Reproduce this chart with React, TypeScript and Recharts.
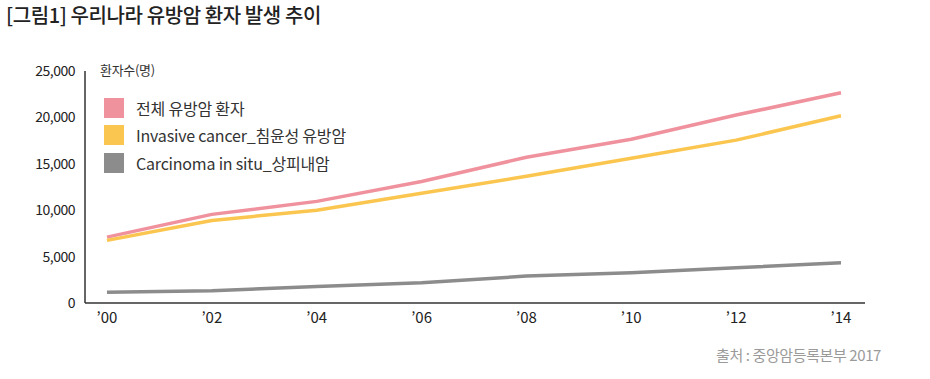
import { LineChart, Line, XAxis, YAxis } from 'recharts';

const years = ["'00", "'02", "'04", "'06", "'08", "'10", "'12", "'14"];
const totalPatients = [7100, 9550, 10950, 13100, 15700, 17650, 20250, 22650];
const invasive = [6750, 8900, 9990, 11830, 13650, 15600, 17550, 20170];
const inSitu = [1170, 1320, 1780, 2180, 2900, 3260, 3800, 4340];
const yTicks = [0, 5000, 10000, 15000, 20000, 25000];

const seriesNames = ['전체 유방암 환자', 'Invasive cancer_침윤성 유방암', 'Carcinoma in situ_상피내암'];
const seriesColors = ['#F0929D', '#FBC64F', '#8C8C8C'];

const data = years.map((y, i) => ({
  year: y.replace("'", '\u2019'),
  total: totalPatients[i],
  invasive: invasive[i],
  inSitu: inSitu[i],
}));

const FONT = '"Noto Sans CJK KR", "Noto Sans", sans-serif';

function LegendBox() {
  return (
    <div style={{ position: 'absolute', left: 104, top: 60, fontFamily: FONT, color: '#333' }}>
      <div style={{ fontSize: 13, height: 22, marginLeft: -4, letterSpacing: -0.3, lineHeight: '20px' }}>환자수(명)</div>
      <div style={{ height: 12 }} />
      {seriesNames.map((name, i) => (
        <div key={name} style={{ display: 'flex', alignItems: 'center', height: 27.5 }}>
          <span style={{ width: 20, height: 20, background: seriesColors[i], display: 'inline-block', marginRight: 12 }} />
          <span style={{ fontSize: 16, letterSpacing: -0.2 }}>{name}</span>
        </div>
      ))}
    </div>
  );
}

export default function App() {
  return (
    <div style={{ position: 'absolute', left: 0, top: 0, width: 930, height: 379, background: '#fff', fontFamily: FONT }}>
      <div style={{ position: 'absolute', left: 6, top: 0, fontSize: 20, fontWeight: 500, color: '#222', letterSpacing: -0.4 }}>
        [그림1] 우리나라 유방암 환자 발생 추이
      </div>
      <LineChart width={930} height={379} data={data} margin={{ top: 71, right: 65, bottom: 46, left: 0 }}>
        <XAxis
          dataKey="year"
          padding={{ left: 22, right: 24 }}
          tickLine={false}
          tickSize={0}
          tickMargin={9}
          axisLine={{ stroke: '#333', strokeWidth: 1.5 }}
          tick={{ fontSize: 15, fill: '#222', fontFamily: FONT }}
        />
        <YAxis
          domain={[0, 25000]}
          ticks={yTicks}
          width={85}
          tickLine={false}
          tickSize={0}
          tickMargin={10}
          axisLine={{ stroke: '#333', strokeWidth: 1.5 }}
          tickFormatter={(v: number) => v.toLocaleString('en-US')}
          tick={{ fontSize: 14, fill: '#222', fontFamily: FONT, letterSpacing: -0.5 }}
        />
        <Line type="linear" dataKey="total" name={seriesNames[0]} stroke={seriesColors[0]} strokeWidth={3.5} strokeLinejoin="round" dot={false} isAnimationActive={false} />
        <Line type="linear" dataKey="invasive" name={seriesNames[1]} stroke={seriesColors[1]} strokeWidth={3.5} strokeLinejoin="round" dot={false} isAnimationActive={false} />
        <Line type="linear" dataKey="inSitu" name={seriesNames[2]} stroke={seriesColors[2]} strokeWidth={3.5} strokeLinejoin="round" dot={false} isAnimationActive={false} />
      </LineChart>
      <LegendBox />
      <div style={{ position: 'absolute', right: 49, top: 344, fontSize: 15, color: '#9a9a9a', letterSpacing: -0.4 }}>
        출처 : 중앙암등록본부 2017
      </div>
    </div>
  );
}
